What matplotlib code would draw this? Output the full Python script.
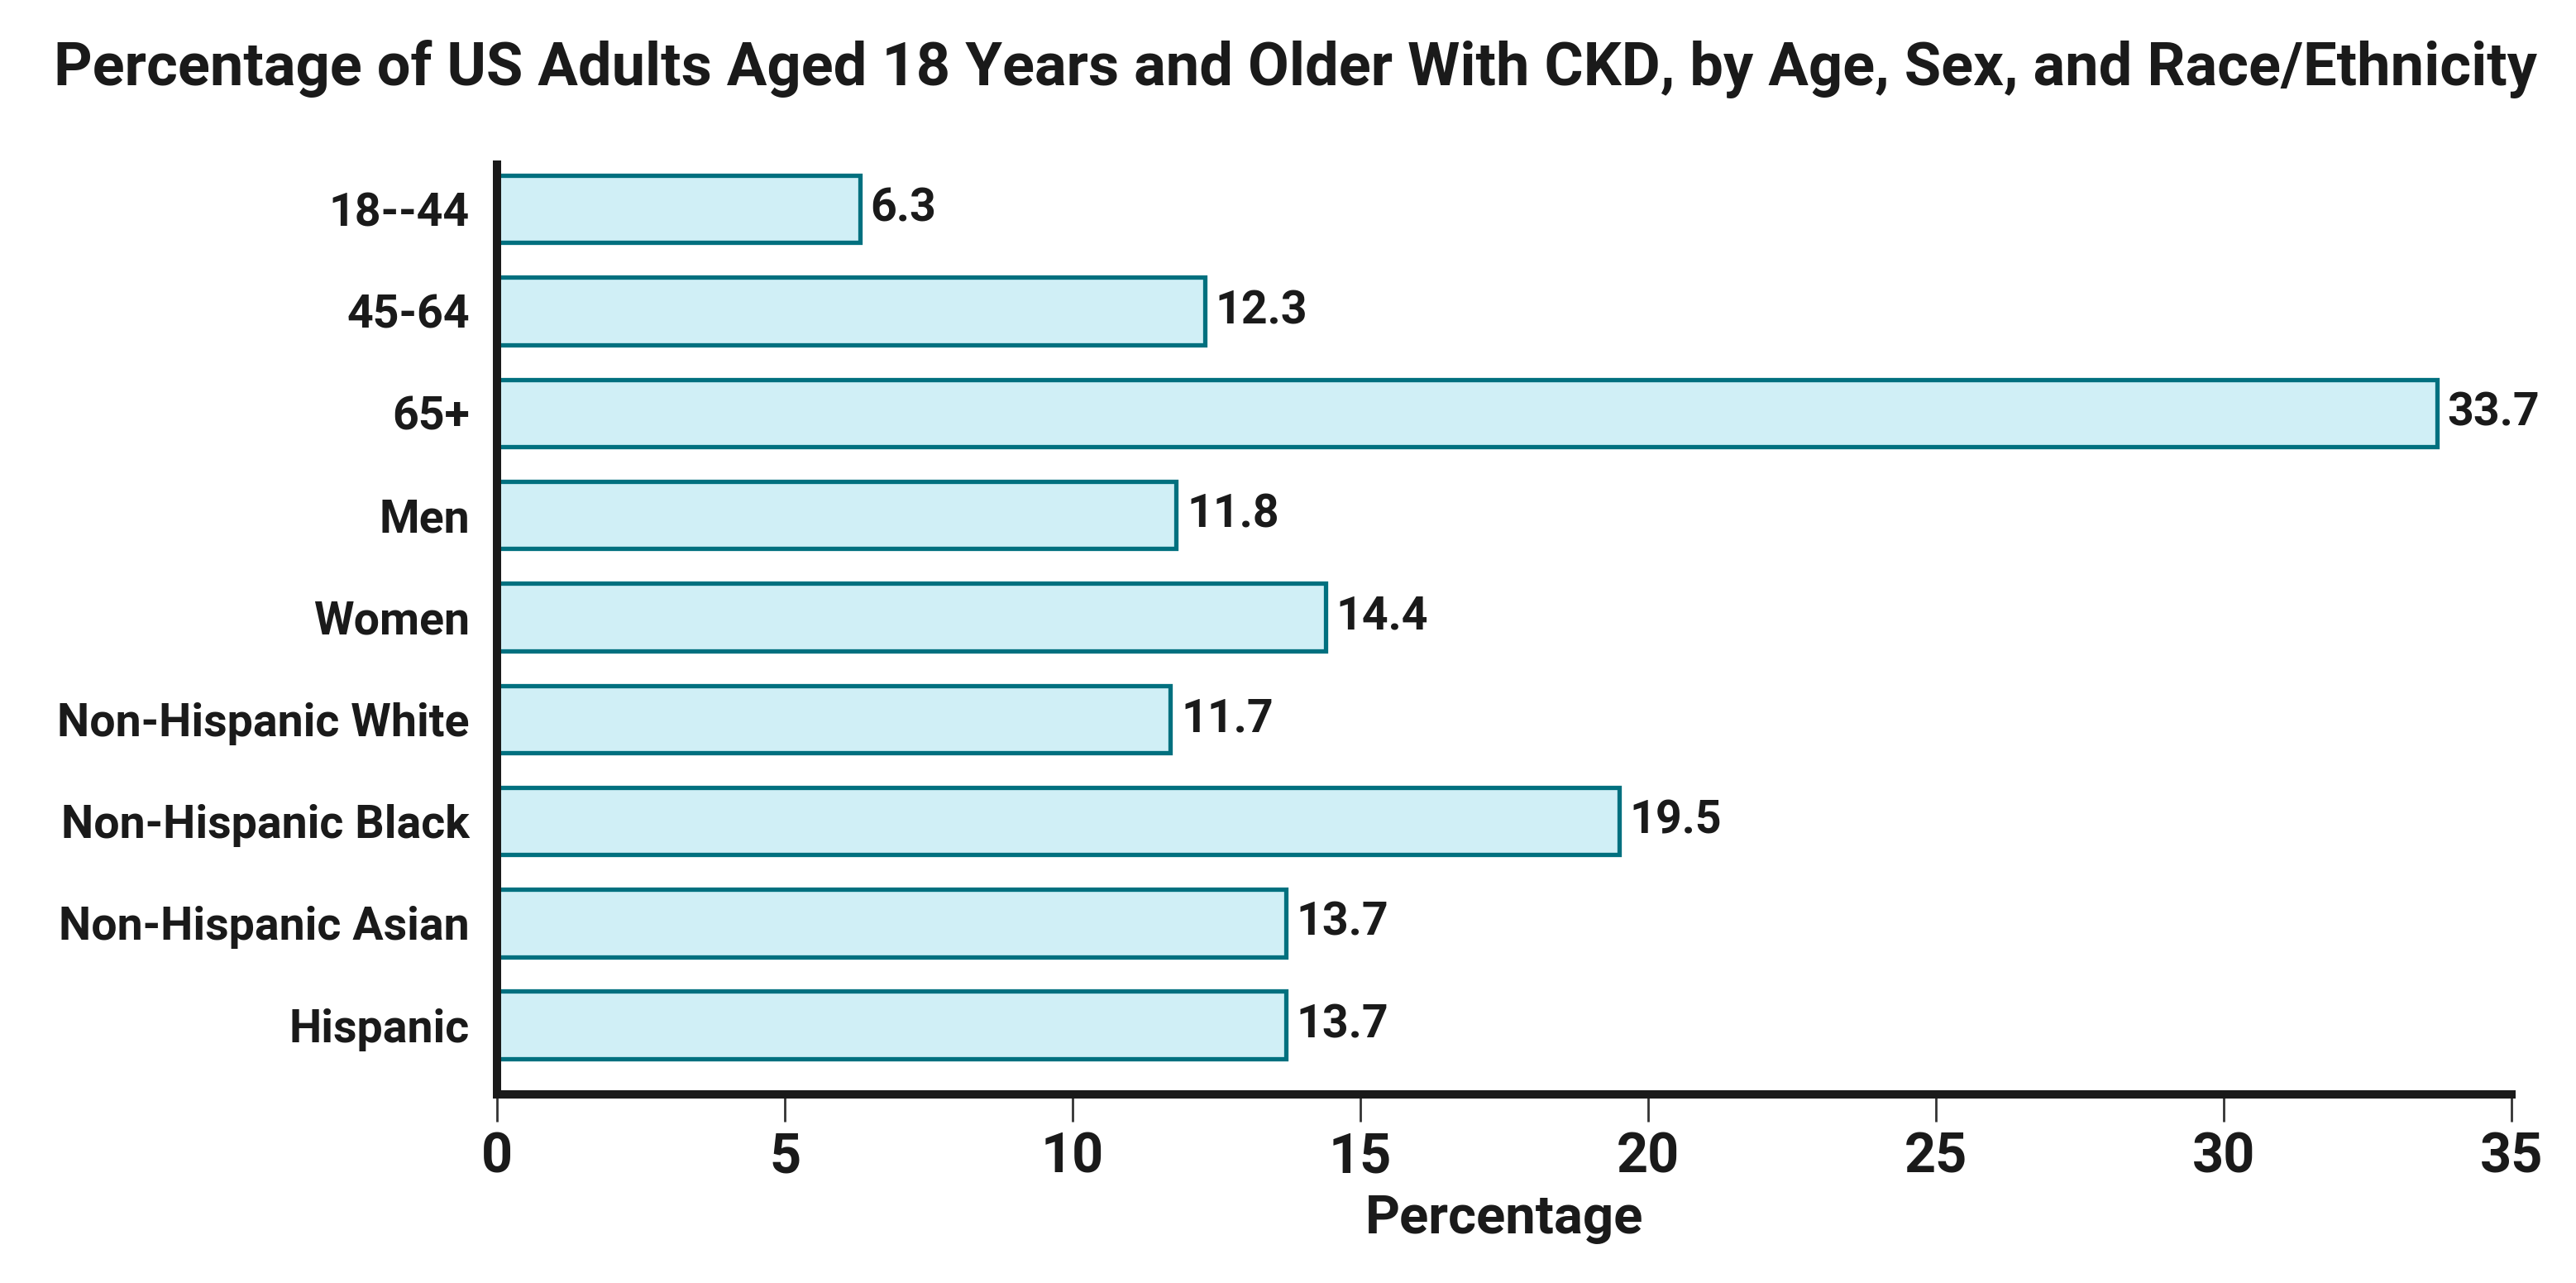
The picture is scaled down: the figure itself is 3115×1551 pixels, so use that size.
import numpy as np
import matplotlib.pyplot as plt

plt.rcParams['font.family'] = ['Roboto', 'DejaVu Sans']

# data
groups = ["18--44", "45-64", "65+", "Men", "Women",
          "Non-Hispanic White", "Non-Hispanic Black",
          "Non-Hispanic Asian", "Hispanic"]
percent = [6.3, 12.3, 33.7, 11.8, 14.4, 11.7, 19.5, 13.7, 13.7]
x_ticks = [0, 5, 10, 15, 20, 25, 30, 35]

TITLE = "Percentage of US Adults Aged 18 Years and Older With CKD, by Age, Sex, and Race/Ethnicity"

BAR_FILL = "#d0eff6"
BAR_EDGE = "#00707f"
INK = "#1a1a1a"

fig = plt.figure(figsize=(15.575, 7.755), dpi=200)
ax = fig.add_axes([0.193, 0.147, 0.782, 0.725])

y = np.arange(len(groups))
ax.barh(y, percent, height=0.66, color=BAR_FILL, edgecolor=BAR_EDGE,
        linewidth=1.9, zorder=2)

for yi, v in zip(y, percent):
    ax.text(v + 0.18, yi, f"{v}", va="center", ha="left",
            fontsize=20, fontweight="bold", color=INK)

ax.set_xlim(0, 35)
ax.set_ylim(len(groups) - 1 + 0.68, -0.44)

ax.set_yticks(y)
ax.set_yticklabels(groups, fontsize=20, fontweight="bold", color=INK)
ax.tick_params(axis="y", length=0, pad=12)

ax.set_xticks(x_ticks)
ax.set_xticklabels([str(t) for t in x_ticks], fontsize=24, fontweight="bold", color=INK)
ax.tick_params(axis="x", length=12, width=1.0, color="#333333", pad=4, direction="out")

for side in ["top", "right"]:
    ax.spines[side].set_visible(False)
for side in ["left", "bottom"]:
    ax.spines[side].set_linewidth(3.6)
    ax.spines[side].set_color(INK)
    ax.spines[side].set_capstyle("projecting")

ax.set_xlabel("Percentage", fontsize=23.5, fontweight="bold", color=INK, labelpad=4)

fig.text(0.503, 0.946, TITLE, ha="center", va="center",
         fontsize=26, fontweight="bold", color=INK)

fig.savefig("out.png", dpi=200, facecolor="white")
